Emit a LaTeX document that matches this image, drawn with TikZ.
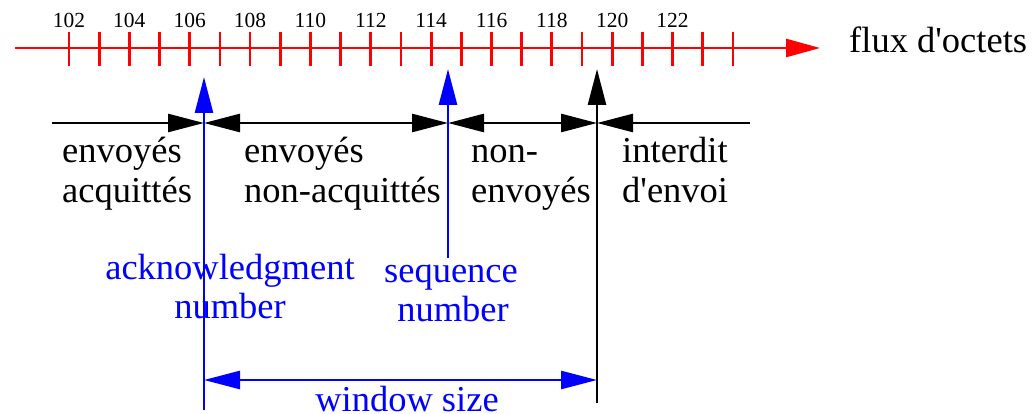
\documentclass[tikz,border=0pt]{standalone}
\usepackage{fontspec}
\setmainfont{Liberation Serif}[Ligatures=TeXOff]
\usetikzlibrary{arrows.meta}
\begin{document}
\begin{tikzpicture}[x=1pt,y=-1pt,
  >={Triangle[length=36pt,width=18pt]},
  ln/.style={line width=2.6pt},
  big/.style={font=\fontsize{36.5}{40}\selectfont, inner sep=0pt, anchor=base west},
  bigc/.style={font=\fontsize{36.5}{40}\selectfont, inner sep=0pt, anchor=base},
  num/.style={font=\fontsize{21.5}{24}\selectfont, inner sep=0pt, anchor=base}]
\useasboundingbox (0,0) rectangle (1035,414);
% byte stream axis
\coordinate (axS) at (15,48);
\coordinate (axE) at (820,48);
\draw[red, ln, -{Triangle[length=34pt,width=18pt]}] (axS) -- (axE);
\foreach \i in {0,...,22}{
  \coordinate (tt\i) at ({69+30.18*\i},32);
  \coordinate (tb\i) at ({69+30.18*\i},66);
  \draw[red, line width=2.8pt] (tt\i) -- (tb\i);
}
\foreach \i in {0,2,...,20}{
  \pgfmathtruncatemacro{\v}{102+\i}
  \node[num] (lab\i) at ({69+30.18*\i},28) {\v};
}
\node[big] (flux) at (849,53) {flux d'octets};
% segment line
\coordinate (L) at (52,123);
\coordinate (B1) at (204,123);
\coordinate (B2) at (448,123);
\coordinate (B3) at (597,123);
\coordinate (R) at (750,123);
\draw[ln, ->] (L) -- (B1);
\draw[ln, <->] (B1) -- (B2);
\draw[ln, <->] (B2) -- (B3);
\draw[ln, <-] (B3) -- (R);
% vertical pointers
\coordinate (ackB) at (204,410);
\coordinate (ackT) at (204,77);
\coordinate (seqB) at (448,258);
\coordinate (seqT) at (448,69);
\coordinate (winB) at (597,403);
\coordinate (winT) at (597,69);
\draw[blue, ln, ->] (ackB) -- (ackT);
\draw[blue, ln, ->] (seqB) -- (seqT);
\draw[ln, ->] (winB) -- (winT);
% window size
\coordinate (wsL) at (204,380);
\coordinate (wsR) at (597,380);
\draw[blue, ln, <->] (wsL) -- (wsR);
% labels
\node[big] (t1a) at (62,163) {envoyés};
\node[big] (t1b) at (62,202) {acquittés};
\node[big] (t2a) at (244,163) {envoyés};
\node[big] (t2b) at (244,202) {non-acquittés};
\node[big] (t3a) at (471,163) {non-};
\node[big] (t3b) at (471,202) {envoyés};
\node[big] (t4a) at (622,163) {interdit};
\node[big] (t4b) at (622,202) {d'envoi};
\node[bigc, text=blue] (ack1) at (230,279) {acknowledgment};
\node[bigc, text=blue] (ack2) at (230,318) {number};
\node[bigc, text=blue] (seq1) at (451,282) {sequence};
\node[bigc, text=blue] (seq2) at (453,321) {number};
\node[bigc, text=blue] (ws) at (407,411.5) {window size};
\end{tikzpicture}
\end{document}
